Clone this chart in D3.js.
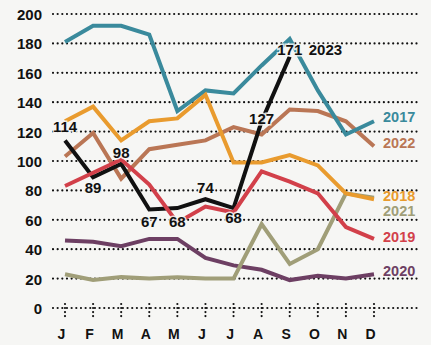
<!DOCTYPE html>
<html>
<head>
<meta charset="utf-8">
<script src="https://cdn.jsdelivr.net/npm/d3@7"></script>
<style>
  body { margin: 0; background: #f6f6f4; }
  svg { display: block; }
  text { font-family: "Liberation Sans", Arial, sans-serif; font-weight: bold; }
</style>
</head>
<body>
<script>
const months = ["J", "F", "M", "A", "M", "J", "J", "A", "S", "O", "N", "D"];
const yTicks = [0, 20, 40, 60, 80, 100, 120, 140, 160, 180, 200];

const s2017 = [181, 192, 192, 186, 134, 148, 146, 165, 183, 148, 118, 127];
const s2018 = [127, 137, 114, 127, 129, 145, 99, 99, 104, 97, 78, 74];
const s2019 = [83, 92, 101, 84, 58, 69, 65, 93, 86, 78, 55, 47];
const s2020 = [46, 45, 42, 47, 47, 34, 29, 26, 19, 22, 20, 23];
const s2021 = [23, 19, 21, 20, 21, 20, 20, 57, 30, 40, 78, 75];
const s2022 = [103, 119, 88, 108, 111, 114, 123, 118, 135, 134, 127, 110];
const s2023 = [114, 89, 98, 67, 68, 74, 68, 127, 171];

const w = 431, h = 345;

// draw order matters: later series sit on top
const series = [
  { name: "2020", values: s2020, color: "#6d3f63", labelY: 276 },
  { name: "2021", values: s2021, color: "#a09e78", labelY: 216 },
  { name: "2022", values: s2022, color: "#ba7655", labelY: 148 },
  { name: "2017", values: s2017, color: "#3a8a9c", labelY: 122 },
  { name: "2018", values: s2018, color: "#e99b2e", labelY: 201 },
  { name: "2023", values: s2023, color: "#111111", labelY: null },
  { name: "2019", values: s2019, color: "#d2404a", labelY: 242 }
];

const x = d3.scalePoint().domain(d3.range(12)).range([65, 374]);
const y = d3.scaleLinear().domain([0, 200]).range([308, 14]);

const svg = d3.select("body").append("svg")
  .attr("width", w)
  .attr("height", h);

svg.append("rect").attr("width", w).attr("height", h).attr("fill", "#f6f6f4");

// dotted gridlines + y labels
const yAxis = d3.axisLeft(y)
  .tickValues(yTicks)
  .tickSize(0)
  .tickPadding(0);
const gy = svg.append("g").attr("transform", "translate(42,0)").call(yAxis);
gy.select(".domain").remove();
gy.selectAll("text")
  .attr("fill", "#111")
  .style("font-size", "15px")
  .attr("dy", "0.36em");

svg.append("g").selectAll("line")
  .data(yTicks)
  .enter().append("line")
  .attr("x1", 53).attr("x2", 420)
  .attr("y1", d => y(d)).attr("y2", d => y(d))
  .attr("stroke", "#111")
  .attr("stroke-width", 2.2)
  .attr("stroke-linecap", "round")
  .attr("stroke-dasharray", "0.01,4.65");

// month ticks (vertical dotted marks) and labels
const xAxis = d3.axisBottom(x)
  .tickFormat(i => months[i])
  .tickSize(0)
  .tickPadding(0);
const gx = svg.append("g").attr("transform", "translate(-4,339)").call(xAxis);
gx.select(".domain").remove();
gx.selectAll("text")
  .attr("fill", "#111")
  .attr("dy", 0)
  .style("font-size", "14px");

svg.append("g").selectAll("line")
  .data(d3.range(12))
  .enter().append("line")
  .attr("x1", d => x(d)).attr("x2", d => x(d))
  .attr("y1", y(0) - 4).attr("y2", y(0) + 9)
  .attr("stroke", "#111")
  .attr("stroke-width", 2.2)
  .attr("stroke-linecap", "round")
  .attr("stroke-dasharray", "0.01,4");

// lines
const line = d3.line()
  .x((d, i) => x(i))
  .y(d => y(d));

svg.append("g").selectAll("path")
  .data(series)
  .enter().append("path")
  .attr("d", d => line(d.values))
  .attr("fill", "none")
  .attr("stroke", d => d.color)
  .attr("stroke-width", 4)
  .attr("stroke-linejoin", "miter");

// series names on the right
svg.append("g").selectAll("text")
  .data(series.filter(d => d.labelY !== null))
  .enter().append("text")
  .attr("x", 383)
  .attr("y", d => d.labelY)
  .attr("fill", d => d.color)
  .style("font-size", "14.5px")
  .text(d => d.name);

// 2023 value labels (baseline offset from the point)
const labelOffset = [-8, 16, -6, 17, 19, -6, 15, 3, -2];
svg.append("g").selectAll("text")
  .data(s2023)
  .enter().append("text")
  .attr("x", (d, i) => x(i))
  .attr("y", (d, i) => y(d) + labelOffset[i])
  .attr("text-anchor", "middle")
  .style("font-size", "15px")
  .attr("fill", "#111")
  .attr("stroke", "#f6f6f4")
  .attr("stroke-width", 3)
  .attr("stroke-opacity", 0.85)
  .attr("paint-order", "stroke")
  .text(d => d);

svg.append("text")
  .attr("x", x(8) + 19)
  .attr("y", y(s2023[8]) - 2)
  .style("font-size", "15px")
  .attr("fill", "#111")
  .attr("stroke", "#f6f6f4")
  .attr("stroke-width", 3)
  .attr("stroke-opacity", 0.85)
  .attr("paint-order", "stroke")
  .text("2023");
</script>
</body>
</html>
